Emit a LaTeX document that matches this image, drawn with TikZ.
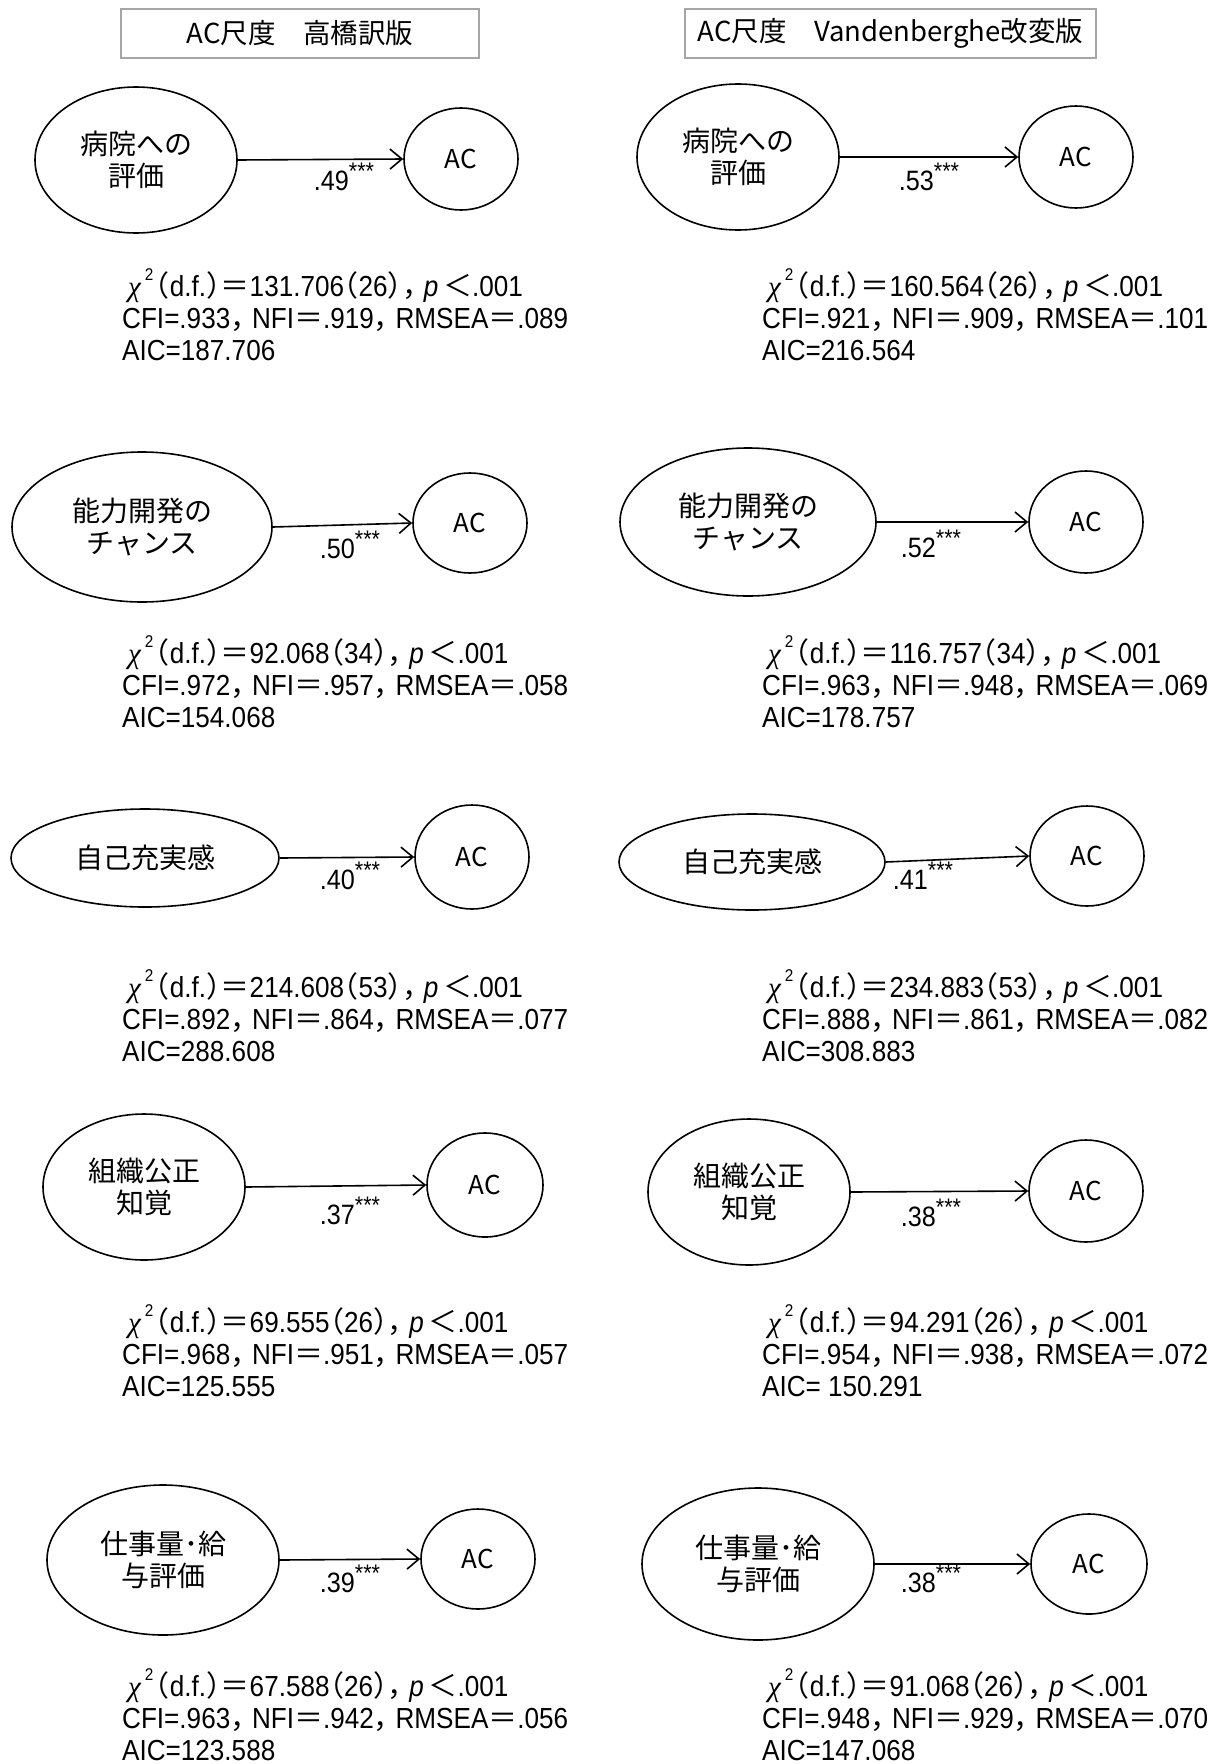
\documentclass[tikz,border=0pt]{standalone}
\usepackage{fontspec}
\setmainfont{Liberation Sans}[FakeStretch=0.9]
\newfontfamily\jp{Noto Sans CJK JP}
\newfontfamily\jph{Noto Sans CJK JP}[RawFeature=+halt]
\newfontfamily\chifont{Liberation Serif}
\usetikzlibrary{shapes.geometric,arrows.meta}

\newcommand{\zeq}{{\jp ＝}}
\newcommand{\zlp}{{\jph （}}
\newcommand{\zrp}{{\jph ）}}
\newcommand{\zcm}{{\jph ，}\hspace{0.25em}}
\newcommand{\zlt}{{\jp ＜}}
\newcommand{\chiline}[2]{{\chifont\itshape χ}\hspace{4pt}\raisebox{0.55em}{\fontsize{17}{17}\selectfont 2}\hspace{2pt}\zlp d.f.\zrp\zeq#1\zlp#2\zrp\zcm{\itshape p}\,\zlt.001}
\newcommand{\statblock}[6]{\hspace*{6pt}\chiline{#1}{#2}\\CFI=#3\zcm NFI\zeq#4\zcm RMSEA\zeq#5\\AIC=#6}
\newcommand{\stars}{\raisebox{0.4em}{\fontsize{24}{24}\selectfont ***}}

\tikzset{
 lat/.style={draw, line width=1.6pt, ellipse, inner sep=0pt, font=\jp\fontsize{28}{32}\selectfont, align=center},
 acnode/.style={draw, line width=1.6pt, ellipse, inner sep=0pt, font=\jp\fontsize{26}{30}\selectfont},
 arr/.style={line width=1.6pt, -{Straight Barb[length=12pt,width=20pt,line width=1.6pt]}},
 coef/.style={font=\fontsize{28}{30}\selectfont, inner sep=0pt},
 stat/.style={font=\fontsize{29}{32}\selectfont, align=left, anchor=west, inner sep=0pt},
 hdr/.style={draw=gray!70, line width=1.6pt, font=\jp\fontsize{27.5}{30}\selectfont, minimum height=49pt, inner sep=0pt}
}

\begin{document}
\begin{tikzpicture}[x=1pt,y=-1pt]
\useasboundingbox (0,0) rectangle (1210,1764);
\fill[white] (0,0) rectangle (1210,1764);

% headers
\node[hdr, minimum width=358pt] (hL) at (300,33.5) {AC尺度　高橋訳版};
\node[hdr, minimum width=411pt] (hR) at (890.5,33.5) {AC尺度　Vandenberghe改変版};

% Row 1
\node[lat, minimum width=202pt, minimum height=146pt] (e1L) at (136,160) {病院への\\評価};
\node[acnode, minimum width=114pt, minimum height=102pt] (a1L) at (461,159) {AC};
\draw[arr] (e1L.east) -- (a1L.west);
\node[coef] (c1L) at (344,177) {.49\stars};
\node[stat] (s1L) at (122,315) {\statblock{131.706}{26}{.933}{.919}{.089}{187.706}};

\node[lat, minimum width=202pt, minimum height=146pt] (e1R) at (738,157) {病院への\\評価};
\node[acnode, minimum width=114pt, minimum height=102pt] (a1R) at (1076,157) {AC};
\draw[arr] (e1R.east) -- (a1R.west);
\node[coef] (c1R) at (929,177) {.53\stars};
\node[stat] (s1R) at (762,315) {\statblock{160.564}{26}{.921}{.909}{.101}{216.564}};

% Row 2
\node[lat, minimum width=260pt, minimum height=150pt] (e2L) at (142,527) {能力開発の\\チャンス};
\node[acnode, minimum width=114pt, minimum height=100pt] (a2L) at (470,523) {AC};
\draw[arr] (e2L.east) -- (a2L.west);
\node[coef] (c2L) at (350,545) {.50\stars};
\node[stat] (s2L) at (122,682) {\statblock{92.068}{34}{.972}{.957}{.058}{154.068}};

\node[lat, minimum width=256pt, minimum height=148pt] (e2R) at (748,522) {能力開発の\\チャンス};
\node[acnode, minimum width=114pt, minimum height=102pt] (a2R) at (1086,522) {AC};
\draw[arr] (e2R.east) -- (a2R.west);
\node[coef] (c2R) at (931,544) {.52\stars};
\node[stat] (s2R) at (762,682) {\statblock{116.757}{34}{.963}{.948}{.069}{178.757}};

% Row 3
\node[lat, minimum width=268pt, minimum height=98pt] (e3L) at (145,858) {自己充実感};
\node[acnode, minimum width=114pt, minimum height=104pt] (a3L) at (472,857) {AC};
\draw[arr] (e3L.east) -- (a3L.west);
\node[coef] (c3L) at (350,876) {.40\stars};
\node[stat] (s3L) at (122,1016) {\statblock{214.608}{53}{.892}{.864}{.077}{288.608}};

\node[lat, minimum width=266pt, minimum height=96pt] (e3R) at (752,862) {自己充実感};
\node[acnode, minimum width=114pt, minimum height=100pt] (a3R) at (1087,856) {AC};
\draw[arr] (e3R.east) -- (a3R.west);
\node[coef] (c3R) at (923,876) {.41\stars};
\node[stat] (s3R) at (762,1016) {\statblock{234.883}{53}{.888}{.861}{.082}{308.883}};

% Row 4
\node[lat, minimum width=202pt, minimum height=146pt] (e4L) at (144,1187) {組織公正\\知覚};
\node[acnode, minimum width=116pt, minimum height=104pt] (a4L) at (485,1185) {AC};
\draw[arr] (e4L.east) -- (a4L.west);
\node[coef] (c4L) at (350,1211) {.37\stars};
\node[stat] (s4L) at (122,1351) {\statblock{69.555}{26}{.968}{.951}{.057}{125.555}};

\node[lat, minimum width=202pt, minimum height=146pt] (e4R) at (749,1192) {組織公正\\知覚};
\node[acnode, minimum width=114pt, minimum height=102pt] (a4R) at (1086,1191) {AC};
\draw[arr] (e4R.east) -- (a4R.west);
\node[coef] (c4R) at (931,1213) {.38\stars};
\node[stat] (s4R) at (762,1351) {\statblock{94.291}{26}{.954}{.938}{.072}{\ 150.291}};

% Row 5
\node[lat, minimum width=232pt, minimum height=150pt] (e5L) at (163,1560) {仕事量･給\\与評価};
\node[acnode, minimum width=114pt, minimum height=100pt] (a5L) at (478,1559) {AC};
\draw[arr] (e5L.east) -- (a5L.west);
\node[coef] (c5L) at (350,1579) {.39\stars};
\node[stat] (s5L) at (122,1715) {\statblock{67.588}{26}{.963}{.942}{.056}{123.588}};

\node[lat, minimum width=232pt, minimum height=152pt] (e5R) at (758,1564) {仕事量･給\\与評価};
\node[acnode, minimum width=116pt, minimum height=100pt] (a5R) at (1089,1564) {AC};
\draw[arr] (e5R.east) -- (a5R.west);
\node[coef] (c5R) at (931,1579) {.38\stars};
\node[stat] (s5R) at (762,1715) {\statblock{91.068}{26}{.948}{.929}{.070}{147.068}};

\end{tikzpicture}
\end{document}
